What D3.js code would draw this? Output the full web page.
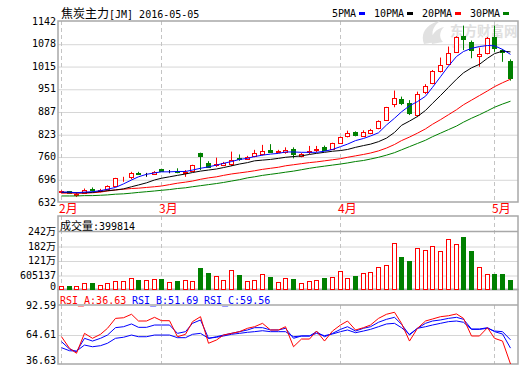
<!DOCTYPE html>
<html>
<head>
<meta charset="utf-8">
<script src="https://cdn.jsdelivr.net/npm/d3@7"></script>
<style>
  body { margin: 0; background: #fff; }
  svg text { font-family: "DejaVu Sans Mono", "Noto Sans CJK SC", monospace; font-size: 10px; }
</style>
</head>
<body>
<script>
// trading days shown (Feb 4 - May 5, 2016)
var dates = ["02-04","02-05","02-15","02-16","02-17","02-18","02-19","02-22","02-23","02-24","02-25","02-26","02-29",
  "03-01","03-02","03-03","03-04","03-07","03-08","03-09","03-10","03-11","03-14","03-15","03-16","03-17","03-18",
  "03-21","03-22","03-23","03-24","03-25","03-28","03-29","03-30","03-31",
  "04-01","04-05","04-06","04-07","04-08","04-11","04-12","04-13","04-14","04-15","04-18","04-19","04-20","04-21",
  "04-22","04-25","04-26","04-27","04-28","04-29",
  "05-03","05-04","05-05"];

var open  = [659,662,652,658,668,664,668,678,699,702,714,710,711,724,717,719,715,719,771,743,735,735,739,755,753,762,767,779,772,773,
             782,762,772,778,788,781,799,819,828,818,827,840,863,908,921,910,877,941,968,1001,1020,1054,1100,1084,1044,1051,1096,1060,1029];
var high  = [665,663,659,670,673,669,679,700,703,717,717,714,719,725,722,727,722,737,771,747,757,745,774,766,762,779,793,795,779,786,
             786,770,790,790,791,799,816,833,831,834,838,862,900,946,929,919,943,964,1004,1039,1070,1099,1129,1087,1067,1097,1129,1063,1034];
var low   = [656,655,646,655,661,659,664,676,689,696,709,703,709,718,713,713,703,717,722,728,731,733,733,748,751,758,763,773,770,768,
             755,758,767,772,777,779,797,814,817,815,823,837,861,899,905,877,871,936,964,997,1018,1052,1060,1037,1013,1048,1055,1027,974];
var close = [662,657,655,667,666,666,678,699,701,713,712,710,717,720,717,717,717,736,761,732,738,742,749,752,759,770,776,774,775,779,
             766,768,775,781,779,797,814,827,820,828,835,860,899,924,910,882,936,960,1001,1018,1051,1096,1090,1060,1048,1093,1067,1054,980];

var volume = [144000,155000,130000,268000,280000,185000,255000,350000,350000,473000,403000,391000,432000,445000,296000,362000,
              379000,362000,885000,679000,584000,391000,803000,597000,362000,391000,638000,527000,296000,473000,432000,255000,
              350000,391000,486000,515000,761000,473000,568000,679000,720000,955000,1008000,1955000,1350000,1186000,1750000,
              1667000,1832000,1626000,2120000,1914000,2174000,1626000,926000,638000,638000,638000,399814];

var ma5  = [660,660,658,660,661,664,668,673,683,694,703,710,714,717,717,718,718,722,727,731,736,741,746,752,755,760,764,767,769,773,
            773,772,772,772,775,780,788,795,805,811,818,827,849,868,886,903,915,930,955,985,1015,1042,1056,1065,1070,1073,1072,1062,1048];
var ma10 = [659,659,658,658,659,662,664,666,669,675,680,686,694,699,703,707,711,715,719,722,725,729,734,739,743,748,750,752,755,758,
            760,762,766,769,772,775,777,780,786,791,795,802,812,828,848,860,873,890,910,932,955,978,996,1010,1020,1037,1050,1057,1055];
var ma20 = [657,657,657,657,658,660,663,666,668,670,671,673,675,677,681,685,688,691,696,700,703,707,711,714,717,720,724,727,730,734,
            737,740,743,745,748,751,754,758,762,766,770,776,784,794,805,815,826,838,851,864,878,892,906,919,932,945,957,968,978];
var ma30 = [649,649,649,650,650,651,652,654,655,657,659,661,663,665,667,670,672,675,678,681,684,687,691,695,700,703,707,710,713,716,
            719,723,727,730,733,736,739,742,746,749,753,758,764,771,779,788,797,806,816,826,836,846,857,868,878,889,899,908,916];

var rsiA = [62.5,51.5,46.8,65.7,61.0,64.8,70.5,79.9,80.5,83.8,77.4,77.4,80.9,77.7,77.7,62.5,64.8,76.8,81.5,56.3,59.4,64.1,65.7,67.3,
            70.5,72.0,75.2,68.9,68.9,72.0,53.0,60.3,60.3,67.9,58.4,67.9,73.6,77.4,68.9,71.1,73.6,79.9,83.8,85.7,75.2,58.4,70.5,77.4,
            79.3,81.5,82.4,84.1,79.9,63.2,63.2,71.1,61.0,58.4,36.63];
var rsiB = [57.8,50.9,48.3,61.0,58.4,61.0,64.1,71.1,72.0,74.6,71.4,71.4,73.6,73.6,73.6,65.7,67.3,75.2,78.4,61.0,62.5,64.1,65.7,67.3,
            68.9,71.1,71.1,68.9,68.9,70.5,61.0,63.2,63.2,67.3,62.5,65.7,69.5,72.0,67.9,70.5,72.0,76.2,79.0,80.9,74.3,64.1,70.5,75.2,
            77.4,78.4,79.9,80.9,79.0,69.8,69.8,71.1,67.3,65.1,51.69];
var rsiC = [52.1,49.2,48.9,54.6,53.0,54.0,56.3,61.0,62.0,64.1,62.5,62.5,64.1,64.1,64.1,61.6,61.6,64.8,65.7,61.0,62.0,63.2,64.8,65.7,
            66.7,67.3,68.2,67.3,67.3,67.3,62.5,63.2,63.2,65.7,63.5,65.1,67.3,68.9,66.3,67.9,69.5,72.0,74.6,75.2,71.1,64.8,70.5,72.0,
            73.6,75.2,76.8,77.4,76.2,69.5,69.5,70.5,67.9,67.3,59.56];

var priceTicks = [632,696,760,823,887,951,1015,1078,1142];
var volTicks = [0,605137,1210274,1815411,2420548];
var volTickLabels = ["0","605137","121万","182万","242万"];
var rsiTicks = [36.63,64.61,92.59];

var monthStarts = ["02-04","03-01","04-01","05-03"];
var monthLabels = ["2月","3月","4月","5月"];

var maNames = ["5PMA","10PMA","20PMA","30PMA"];
var maColors = ["#0000ff","#000000","#ff0000","#008000"];

// layout
var left = 58, right = 518;
var mainP = {top: 21, bottom: 202};
var volP = {top: 216, head: 231.5, bottom: 289.5};
var rsiP = {top: 289.5, head: 305, bottom: 364};
var RED = "#ff0000", GREEN = "#008000", BORDER = "#a8a8a8", GRID = "#d6d6d6";

var svg = d3.select("body").append("svg")
    .attr("width", 520)
    .attr("height", 365);

var x = d3.scaleBand().domain(dates).range([57, 513.7]);
function cx(d) { return Math.round(x(d) + x.bandwidth() / 2); }

var yPrice = d3.scaleLinear().domain([632, 1142]).range([mainP.bottom, mainP.top]);
var yVol = d3.scaleLinear().domain([0, 2420548]).range([volP.bottom, volP.head]);
var yRsi = d3.scaleLinear().domain([36.63, 92.59]).range([rsiP.bottom, rsiP.head]);

//gridlines through axes with no labels
function grid(scale, vals) {
  var g = svg.append("g")
      .attr("transform", "translate(" + left + ",0.5)")
      .call(d3.axisLeft(scale).tickValues(vals).tickSize(-(right - left)).tickFormat(""));
  g.select(".domain").remove();
  g.selectAll("line").attr("stroke", GRID);
}
grid(yPrice, priceTicks.slice(1, -1));
grid(yVol, volTicks.slice(1, -1));
grid(yRsi, [rsiTicks[1]]);

// dashed month separators
monthStarts.forEach(function (m) {
  var xx = cx(m) + 0.5;
  [[mainP.top, mainP.bottom], [volP.top, volP.bottom], [rsiP.head, rsiP.bottom]].forEach(function (r) {
    svg.append("line")
      .attr("x1", xx).attr("x2", xx)
      .attr("y1", r[0]).attr("y2", r[1])
      .attr("stroke", "#c4c4c4")
      .attr("stroke-dasharray", "4,3");
  });
});

// panel borders and header separators
[[mainP.top, mainP.bottom], [volP.top, volP.bottom], [rsiP.top, rsiP.bottom]].forEach(function (r) {
  svg.append("rect")
    .attr("x", left).attr("y", r[0])
    .attr("width", right - left).attr("height", r[1] - r[0])
    .attr("fill", "none")
    .attr("stroke", BORDER)
    .attr("stroke-width", 1.5);
});
[volP.head, rsiP.head].forEach(function (yy) {
  svg.append("line")
    .attr("x1", left).attr("x2", right)
    .attr("y1", yy).attr("y2", yy)
    .attr("stroke", BORDER).attr("stroke-width", 1.5);
});

// watermark
var wm = svg.append("g").attr("opacity", 0.9);
wm.append("path")
  .attr("d", "M424,44 C420,34 426,24 440,21 C432,27 430,35 436,42 Z M432,44 C430,36 435,29 444,27 C439,32 439,38 443,42 Z")
  .attr("fill", "#dedede");
wm.append("text")
  .attr("x", 450).attr("y", 36)
  .style("font-family", "'Noto Sans CJK SC'")
  .style("font-size", "13.5px")
  .style("font-weight", "bold")
  .attr("fill", "#dcdcdc")
  .text("东方财富网");
wm.append("text")
  .attr("x", 452).attr("y", 47.5)
  .style("font-size", "6px")
  .attr("fill", "#e2e2e2")
  .text("eastmoney.com");

// y axis labels
function labels(scale, vals, fmt) {
  var g = svg.append("g")
      .attr("transform", "translate(" + left + ",0)")
      .call(d3.axisLeft(scale).tickValues(vals).tickSize(0).tickPadding(2).tickFormat(fmt));
  g.select(".domain").remove();
  g.selectAll("text")
    .attr("font-family", null)
    .attr("font-size", null)
    .attr("fill", "#000");
  return g;
}
labels(yPrice, priceTicks, function (d) { return d; });
labels(yVol, volTicks, function (d, i) { return volTickLabels[i]; })
  .selectAll("text").filter(function (d) { return d === 0; }).attr("y", -3.5);
labels(yRsi, rsiTicks, d3.format(".2f"))
  .selectAll("text").filter(function (d) { return d === rsiTicks[0]; }).attr("y", -3.5);

// month labels
monthStarts.forEach(function (m, i) {
  svg.append("text")
    .attr("x", cx(m) - 2)
    .attr("y", 213)
    .attr("fill", RED)
    .style("font-family", "'Noto Sans CJK SC'")
    .style("font-size", "12px")
    .text(monthLabels[i]);
});

function candleColor(i) {
  if (close[i] > open[i]) return RED;
  if (close[i] < open[i]) return GREEN;
  return "#000";
}

// candles
dates.forEach(function (d, i) {
  var c = candleColor(i);
  var xx = cx(d);
  svg.append("line")
    .attr("x1", xx + 0.5).attr("x2", xx + 0.5)
    .attr("y1", yPrice(high[i])).attr("y2", yPrice(low[i]))
    .attr("stroke", c);
  var top = Math.round(yPrice(Math.max(open[i], close[i])));
  var h = Math.max(0, Math.round(yPrice(Math.min(open[i], close[i]))) - top);
  svg.append("rect")
    .attr("x", xx - 1.5).attr("y", top + 0.5)
    .attr("width", 4).attr("height", h)
    .attr("fill", c === RED ? "#fff" : c)
    .attr("stroke", c);
});

// moving averages
var priceLine = d3.line()
    .x(function (d, i) { return cx(dates[i]) + 0.5; })
    .y(function (d) { return yPrice(d); });
[ma30, ma20, ma10, ma5].forEach(function (s, k) {
  svg.append("path")
    .datum(s)
    .attr("d", priceLine)
    .attr("fill", "none")
    .attr("stroke", maColors[3 - k]);
});

// volume bars
dates.forEach(function (d, i) {
  var c = candleColor(i) === GREEN ? GREEN : RED;
  var top = Math.round(yVol(volume[i]));
  svg.append("rect")
    .attr("x", cx(d) - 1.5).attr("y", top + 0.5)
    .attr("width", 4).attr("height", Math.max(0, Math.round(volP.bottom) - top - 1))
    .attr("fill", c === RED ? "#fff" : c)
    .attr("stroke", c);
});

// rsi lines
var rsiLine = d3.line()
    .x(function (d, i) { return cx(dates[i]) + 0.5; })
    .y(function (d) { return yRsi(d); });
[[rsiC, "#0000ff"], [rsiB, "#0000ff"], [rsiA, RED]].forEach(function (s) {
  svg.append("path")
    .datum(s[0])
    .attr("d", rsiLine)
    .attr("fill", "none")
    .attr("stroke", s[1]);
});

// title and legend
var title = svg.append("text").attr("x", 61).attr("y", 18);
title.append("tspan").style("font-family", "'Noto Sans CJK SC'").style("font-size", "12px").text("焦炭主力");
title.append("tspan").text("[JM] 2016-05-05");

var lx = 332;
maNames.forEach(function (n, i) {
  svg.append("text").attr("x", lx).attr("y", 17).text(n);
  var sx = lx + n.length * 6 + 3;
  svg.append("rect")
    .attr("x", sx).attr("y", 12)
    .attr("width", 6).attr("height", 3)
    .attr("fill", maColors[i]);
  lx = sx + 15;
});

// panel headers
var vh = svg.append("text").attr("x", 60).attr("y", 229.5);
vh.append("tspan").style("font-family", "'Noto Sans CJK SC'").style("font-size", "11px").text("成交量");
vh.append("tspan").text(":" + volume[volume.length - 1]);

var rsiHeads = [["RSI_A", rsiA, RED], ["RSI_B", rsiB, "#0000ff"], ["RSI_C", rsiC, "#0000ff"]];
rsiHeads.forEach(function (r, i) {
  svg.append("text")
    .attr("x", 60 + i * 72)
    .attr("y", 303.5)
    .attr("fill", r[2])
    .text(r[0] + ":" + r[1][r[1].length - 1].toFixed(2));
});
</script>
</body>
</html>
